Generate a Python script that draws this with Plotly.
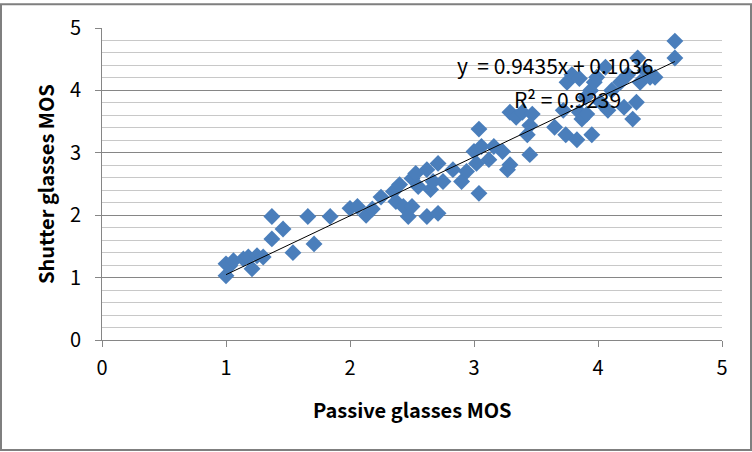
import plotly.graph_objects as go

passive_mos = [1.00, 1.00, 1.03, 1.06, 1.14, 1.18, 1.21, 1.25, 1.30, 1.37, 1.37, 1.46, 1.54, 1.66, 1.71, 1.84,
               2.00, 2.06, 2.13, 2.18, 2.25, 2.35, 2.37, 2.40, 2.43, 2.47, 2.50, 2.50, 2.53, 2.55, 2.62, 2.62,
               2.65, 2.67, 2.71, 2.71, 2.75, 2.83, 2.90, 2.94, 3.00, 3.02, 3.04, 3.04, 3.06, 3.12, 3.16, 3.23,
               3.27, 3.29, 3.29, 3.34, 3.39, 3.43, 3.45, 3.47, 3.45,
               3.65, 3.72, 3.74, 3.75, 3.79, 3.83, 3.85, 3.87, 3.90, 3.91, 3.94, 3.95, 3.97, 3.99, 4.02, 4.06,
               4.08, 4.11, 4.18, 4.21, 4.24, 4.28, 4.31, 4.32, 4.34, 4.38, 4.42, 4.46, 4.62, 4.62, 3.85]
shutter_mos = [1.03, 1.22, 1.19, 1.27, 1.30, 1.33, 1.14, 1.35, 1.33, 1.98, 1.62, 1.78, 1.40, 1.98, 1.54, 1.98,
               2.11, 2.14, 2.00, 2.10, 2.29, 2.38, 2.22, 2.49, 2.14, 1.98, 2.59, 2.14, 2.67, 2.46, 2.73, 1.98,
               2.41, 2.54, 2.03, 2.83, 2.54, 2.73, 2.54, 2.70, 3.02, 2.83, 2.35, 3.38, 3.10, 2.89, 3.10, 3.02,
               2.73, 2.81, 3.65, 3.57, 3.65, 3.29, 2.97, 3.62, 3.44,
               3.41, 3.68, 3.29, 4.13, 4.25, 3.21, 3.65, 3.54, 3.89, 3.62, 4.00, 3.29, 4.13, 4.21, 3.81, 4.37,
               3.68, 4.00, 4.13, 3.73, 4.25, 3.54, 3.81, 4.52, 4.13, 4.32, 4.21, 4.21, 4.79, 4.52, 4.19]

slope = 0.9435
intercept = 0.1036
r_squared = 0.9239
axis_ticks = [0, 1, 2, 3, 4, 5]

x_min = min(passive_mos)
x_max = max(passive_mos)

fig = go.Figure()
fig.add_trace(go.Scatter(
    x=passive_mos, y=shutter_mos, mode="markers",
    marker=dict(symbol="diamond", size=13, color="#4A7EBB", line=dict(width=0)),
    showlegend=False, hoverinfo="skip"))
fig.add_trace(go.Scatter(
    x=[x_min, x_max], y=[slope * x_min + intercept, slope * x_max + intercept],
    mode="lines", line=dict(color="black", width=1), showlegend=False, hoverinfo="skip"))

font = "Noto Sans CJK KR"
L, R, T, B = 102, 30, 25, 112
W, H = 752, 452
pw, ph = W - L - R, H - T - B

fig.update_layout(
    width=W, height=H,
    margin=dict(l=L, r=R, t=T, b=B),
    paper_bgcolor="white", plot_bgcolor="white",
    font=dict(family=font, color="black", size=20),
    xaxis=dict(range=[0, 5], tickvals=axis_ticks, ticks="outside", ticklen=6, tickcolor="#868686",
               showgrid=False, zeroline=False, showline=True, linecolor="#868686", linewidth=1,
               ticklabelstandoff=4,
               tickfont=dict(size=20, family=font), fixedrange=True),
    yaxis=dict(range=[0, 5], tickvals=axis_ticks, ticks="outside", ticklen=6, tickcolor="#868686",
               showgrid=True, gridcolor="#868686", gridwidth=1, zeroline=False,
               showline=True, linecolor="#868686", linewidth=1,
               ticklabelstandoff=10,
               minor=dict(dtick=0.2, showgrid=True, gridcolor="#C8C8C8", gridwidth=1, ticks=""),
               tickfont=dict(size=20, family=font), fixedrange=True),
    annotations=[
        dict(text="<b>Passive glasses MOS</b>", xref="paper", yref="paper", x=0.5, y=-(410 - 340) / ph,
             showarrow=False, font=dict(size=20, family=font), xanchor="center", yanchor="middle"),
        dict(text="<b>Shutter glasses MOS</b>", xref="paper", yref="paper", x=-(102 - 45) / pw, y=0.5,
             textangle=-90, showarrow=False, font=dict(size=20, family=font), xanchor="center", yanchor="middle"),
        dict(text=f"y  = {slope}x + {intercept}", xref="x", yref="y", x=3.65, y=4.41,
             showarrow=False, font=dict(size=21, family=font), xanchor="center", yanchor="middle"),
        dict(text=f"R² = {r_squared}", xref="x", yref="y", x=3.75, y=3.86,
             showarrow=False, font=dict(size=21, family=font), xanchor="center", yanchor="middle"),
    ],
    shapes=[dict(type="rect", xref="paper", yref="paper",
                 x0=-(L - 1) / pw, x1=(W - L - 1) / pw, y0=-(B - 1) / ph, y1=(ph + T - 1) / ph,
                 line=dict(color="#7F7F7F", width=2), layer="below")],
)

fig.write_html("out.html")
